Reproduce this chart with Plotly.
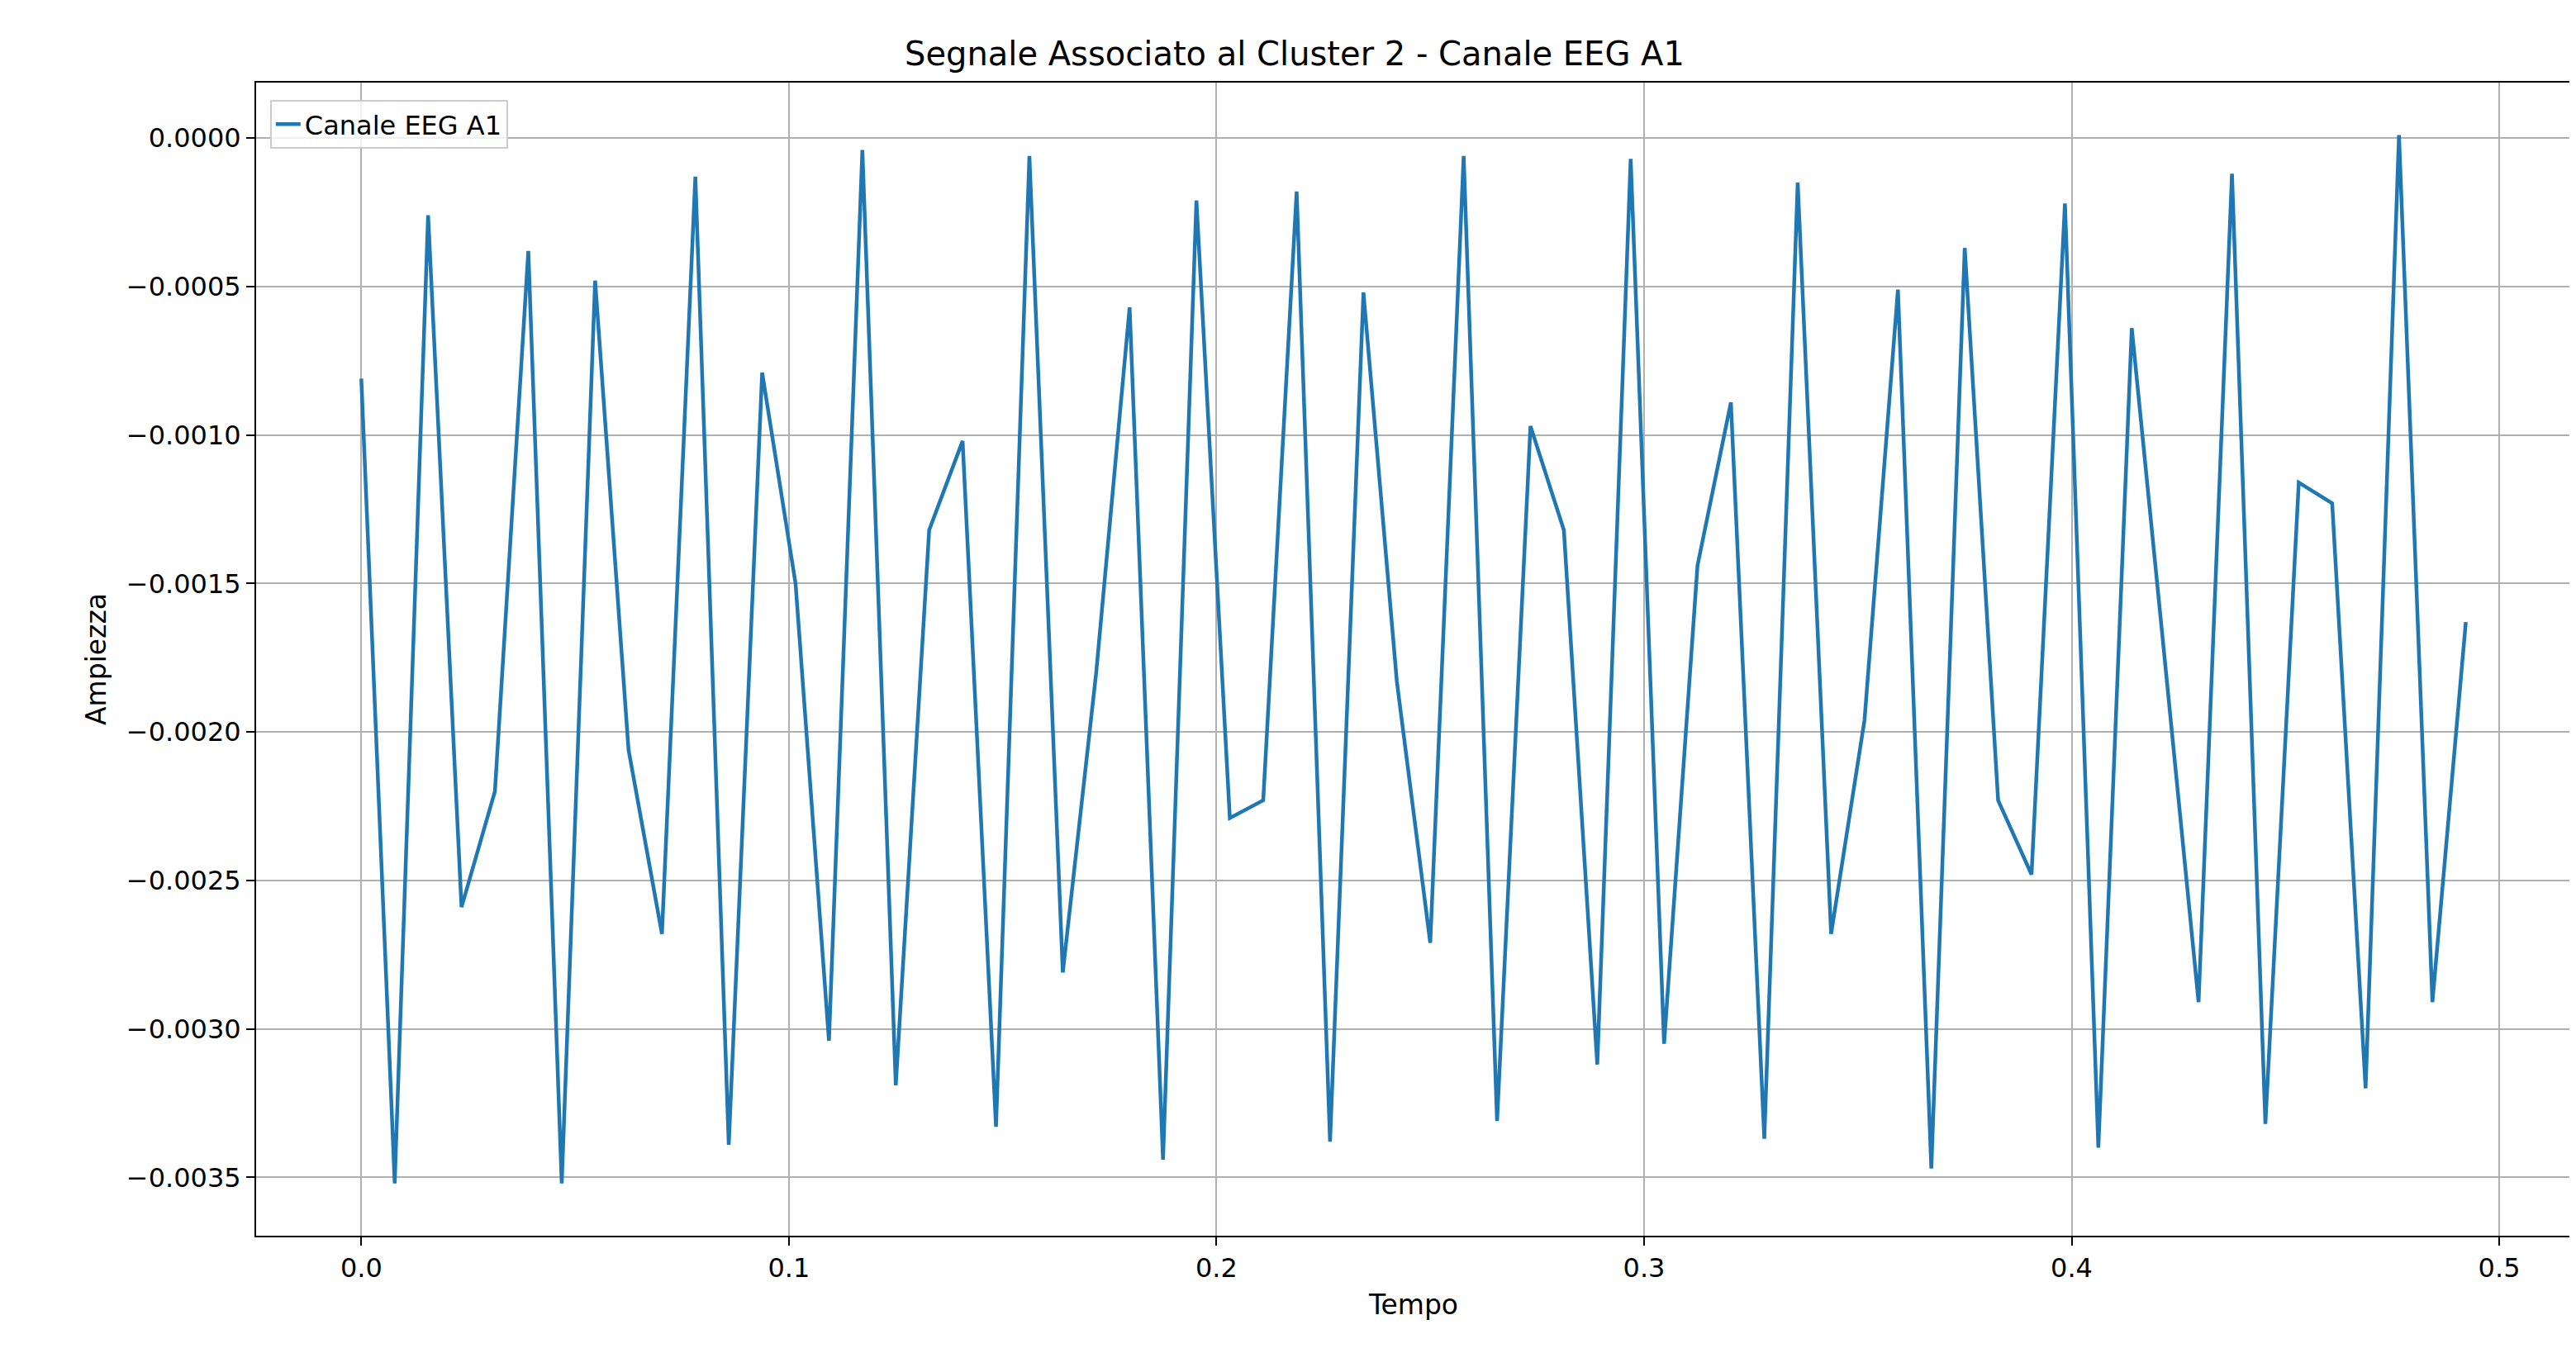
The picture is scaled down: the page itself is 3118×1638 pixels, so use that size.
import plotly.graph_objects as go

# segnale campionato a 128 Hz
tempo = [i / 128 for i in range(64)]
ampiezza = [
    -0.00081, -0.00352, -0.00026, -0.00259, -0.00220, -0.00038, -0.00352, -0.00048,
    -0.00206, -0.00268, -0.00013, -0.00339, -0.00079, -0.00150, -0.00304, -0.00004,
    -0.00319, -0.00132, -0.00102, -0.00333, -0.00006, -0.00281, -0.00180, -0.00057,
    -0.00344, -0.00021, -0.00229, -0.00223, -0.00018, -0.00338, -0.00052, -0.00183,
    -0.00271, -0.00006, -0.00331, -0.00097, -0.00132, -0.00312, -0.00007, -0.00305,
    -0.00144, -0.00089, -0.00337, -0.00015, -0.00268, -0.00196, -0.00051, -0.00347,
    -0.00037, -0.00223, -0.00248, -0.00022, -0.00340, -0.00064, -0.00177, -0.00291,
    -0.00012, -0.00332, -0.00116, -0.00123, -0.00320, 0.00001, -0.00291, -0.00163,
]
x_ticks = [0.0, 0.1, 0.2, 0.3, 0.4, 0.5]
y_ticks = [0.0, -0.0005, -0.001, -0.0015, -0.002, -0.0025, -0.003, -0.0035]
y_labels = [f"{v:.4f}".replace("-", "\u2212") for v in y_ticks]

fig = go.Figure()
fig.add_trace(go.Scatter(x=tempo, y=ampiezza, mode="lines", name="Canale EEG A1",
                         line=dict(color="#1f77b4", width=4.5)))

axis_style = dict(showline=True, linecolor="black", linewidth=2, mirror=True,
                  showgrid=True, gridcolor="#b0b0b0", gridwidth=2, zeroline=False,
                  ticks="outside", ticklen=10, tickwidth=2, tickcolor="black",
                  tickfont=dict(size=32, color="black"))

fig.update_xaxes(range=[-0.0246, 0.5168], tickvals=x_ticks,
                 ticktext=[f"{v:.1f}" for v in x_ticks],
                 title=dict(text="Tempo", font=dict(size=33, color="black"), standoff=14),
                 **axis_style)
fig.update_yaxes(range=[-0.0036965, 0.000187], tickvals=y_ticks, ticktext=y_labels,
                 title=dict(text="Ampiezza", font=dict(size=33, color="black"), standoff=14),
                 **axis_style)

fig.update_layout(
    width=3118, height=1638,
    paper_bgcolor="white", plot_bgcolor="white",
    font=dict(family="DejaVu Sans", color="black"),
    title=dict(text="Segnale Associato al Cluster 2 - Canale EEG A1", x=0.5, xanchor="center",
               y=0.965, yanchor="middle", font=dict(size=40, color="black")),
    margin=dict(l=302, r=12, t=92, b=150),
    showlegend=True,
    legend=dict(x=0.006, y=0.985, xanchor="left", yanchor="top",
                bgcolor="rgba(255,255,255,0.8)", bordercolor="#cccccc", borderwidth=2,
                font=dict(size=32, color="black")),
)

fig.write_html("out.html")
